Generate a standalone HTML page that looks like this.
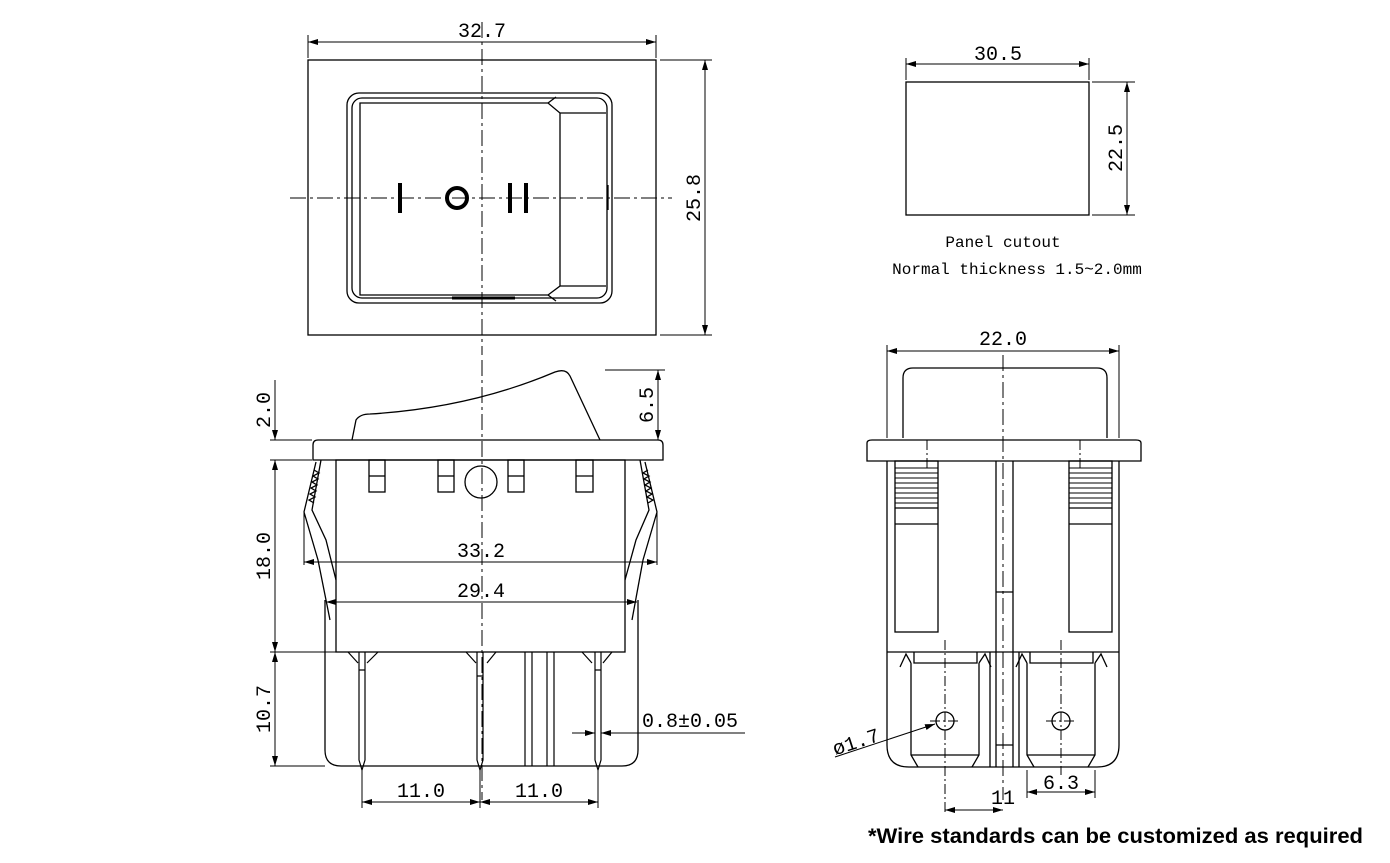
<!DOCTYPE html>
<html><head><style>
html,body{margin:0;padding:0;background:#fff}
svg{display:block}
text{fill:#000}
.m{font-family:"Liberation Mono","DejaVu Sans Mono",monospace}
.f{font-family:"Liberation Sans",sans-serif;font-weight:bold}
</style></head><body>
<svg width="1390" height="863" viewBox="0 0 1390 863" xmlns="http://www.w3.org/2000/svg">
<defs>
<marker id="a" viewBox="0 0 10 6" refX="10" refY="3" markerWidth="10" markerHeight="6" orient="auto-start-reverse"><path d="M0,0L10,3L0,6z" fill="#000"/></marker>
</defs>
<g fill="none" stroke="#000" stroke-width="1.3">
<rect x="308" y="60" width="348" height="275"/>
<rect x="347" y="93" width="265" height="210" rx="12"/>
<rect x="352" y="98" width="255" height="200" rx="10"/>
<path d="M360,103 H548 L560,113 V286 L548,295 H360 Z"/>
<path d="M560,113 H606 M560,286 H606 M548,103 L556,97 M548,295 L556,301"/>
<line x1="608" y1="185" x2="608" y2="210"/>
<line x1="452" y1="298" x2="515" y2="298" stroke-width="3"/>
<g stroke-width="1" stroke-dasharray="16,4,3,4">
<line x1="482" y1="22" x2="482" y2="355"/>
<line x1="290" y1="198" x2="672" y2="198"/>
<line x1="482" y1="360" x2="482" y2="800"/>
<line x1="1003" y1="355" x2="1003" y2="800"/>
</g>
<line x1="400" y1="183" x2="400" y2="213" stroke-width="4"/>
<circle cx="457" cy="198" r="10" stroke-width="4"/>
<line x1="510" y1="183" x2="510" y2="213" stroke-width="4"/>
<line x1="526" y1="183" x2="526" y2="213" stroke-width="4"/>
<g stroke-width="1">
<line x1="308" y1="35" x2="308" y2="58"/><line x1="656" y1="35" x2="656" y2="58"/>
<line x1="308" y1="42" x2="656" y2="42" marker-start="url(#a)" marker-end="url(#a)"/>
<line x1="660" y1="60" x2="712" y2="60"/><line x1="660" y1="335" x2="712" y2="335"/>
<line x1="705" y1="60" x2="705" y2="335" marker-start="url(#a)" marker-end="url(#a)"/>
</g>
<rect x="906" y="82" width="183" height="133"/>
<g stroke-width="1">
<line x1="906" y1="58" x2="906" y2="80"/><line x1="1089" y1="58" x2="1089" y2="80"/>
<line x1="906" y1="64" x2="1089" y2="64" marker-start="url(#a)" marker-end="url(#a)"/>
<line x1="1092" y1="82" x2="1135" y2="82"/><line x1="1092" y1="215" x2="1135" y2="215"/>
<line x1="1127" y1="82" x2="1127" y2="215" marker-start="url(#a)" marker-end="url(#a)"/>
</g>
<path d="M352,440 L356,420 Q360,414 370,414 Q470,408 555,372 Q566,368 570,376 L600,440"/>
<path d="M313,445 Q313,440 318,440 H658 Q663,440 663,445 V460 H313 Z"/>
<rect x="336" y="460" width="289" height="192"/>
<path d="M325,600 V750 Q325,766 341,766 H622 Q638,766 638,750 V600"/>
<path d="M321,460 L312,510 L326,540 L336,580 M640,460 L649,510 L636,540 L625,580"/>
<path d="M316,462 L304,512 L318,560 L330,620 M645,462 L657,512 L643,560 L632,620"/>
<path d="M314,470 l5,3 l-6,3 l5,3 l-6,3 l5,3 l-6,3 l5,3 l-6,3 l5,3 l-6,3 l5,3 M648,470 l-5,3 l6,3 l-5,3 l6,3 l-5,3 l6,3 l-5,3 l6,3 l-5,3 l6,3 l-5,3"/>
<rect x="369" y="460" width="16" height="32"/><line x1="369" y1="476" x2="385" y2="476"/>
<rect x="438" y="460" width="16" height="32"/><line x1="438" y1="476" x2="454" y2="476"/>
<rect x="508" y="460" width="16" height="32"/><line x1="508" y1="476" x2="524" y2="476"/>
<rect x="576" y="460" width="17" height="32"/><line x1="576" y1="476" x2="593" y2="476"/>
<circle cx="481" cy="482" r="16"/>
<g stroke-width="1.2">
<path d="M359,652 V760 L362,770 L365,760 V652 M466,652 L476,663 M487,663 L496,652 M348,652 L358,663 M367,663 L378,652 M582,652 L592,663 M603,663 L612,652"/>
<path d="M477,652 V760 L480,770 L483,760 V652 M595,652 V760 L598,770 L601,760 V652"/>
<path d="M525,652 V766 M532,652 V766 M547,652 V766 M554,652 V766"/>
<path d="M359,670 h6 M477,676 h6 M595,670 h6"/>
</g>
<g stroke-width="1">
<line x1="270" y1="440" x2="312" y2="440"/>
<line x1="270" y1="460" x2="312" y2="460"/>
<line x1="275" y1="380" x2="275" y2="440" marker-end="url(#a)"/>
<line x1="275" y1="460" x2="275" y2="652" marker-start="url(#a)" marker-end="url(#a)"/>
<line x1="270" y1="652" x2="336" y2="652"/>
<line x1="270" y1="766" x2="325" y2="766"/>
<line x1="275" y1="652" x2="275" y2="766" marker-start="url(#a)" marker-end="url(#a)"/>
<line x1="605" y1="370" x2="665" y2="370"/>
<line x1="658" y1="370" x2="658" y2="440" marker-start="url(#a)" marker-end="url(#a)"/>
<line x1="304" y1="512" x2="304" y2="565"/><line x1="657" y1="512" x2="657" y2="565"/>
<line x1="304" y1="562" x2="657" y2="562" marker-start="url(#a)" marker-end="url(#a)"/>
<line x1="326" y1="602" x2="637" y2="602" marker-start="url(#a)" marker-end="url(#a)"/>
<line x1="572" y1="733" x2="595" y2="733" marker-end="url(#a)"/>
<line x1="601" y1="733" x2="745" y2="733" marker-start="url(#a)"/>
<line x1="362" y1="770" x2="362" y2="808"/><line x1="480" y1="770" x2="480" y2="808"/><line x1="598" y1="770" x2="598" y2="808"/>
<line x1="362" y1="802" x2="480" y2="802" marker-start="url(#a)" marker-end="url(#a)"/>
<line x1="480" y1="802" x2="598" y2="802" marker-start="url(#a)" marker-end="url(#a)"/>
</g>
<path d="M903,438 V378 Q903,368 913,368 H1097 Q1107,368 1107,378 V438"/>
<path d="M867,443 Q867,440 872,440 H1136 Q1141,440 1141,443 V461 H867 Z"/>
<path d="M887,461 V745 Q887,767 909,767 H1097 Q1119,767 1119,745 V461"/>
<line x1="887" y1="652" x2="1119" y2="652"/>
<path d="M996,461 V767 M1013,461 V767 M996,592 H1013 M996,745 H1013 M990,652 V767 M1019,652 V767"/>
<rect x="895" y="461" width="43" height="171"/><line x1="895" y1="524" x2="938" y2="524"/><line x1="895" y1="508" x2="938" y2="508"/>
<rect x="1069" y="461" width="43" height="171"/><line x1="1069" y1="524" x2="1112" y2="524"/><line x1="1069" y1="508" x2="1112" y2="508"/>
<path stroke-width="0.9" d="M895,468h43M895,473h43M895,478h43M895,483h43M895,488h43M895,493h43M895,498h43M895,503h43 M1069,468h43M1069,473h43M1069,478h43M1069,483h43M1069,488h43M1069,493h43M1069,498h43M1069,503h43"/>
<path d="M911,663 V755 L918,767 M979,663 V755 L972,767 M911,755 H979 M914,652 V663 H977 V652 M900,667 L906,654 L911,663 M979,663 L985,654 L991,667"/>
<path d="M1027,663 V755 L1034,767 M1095,663 V755 L1088,767 M1027,755 H1095 M1030,652 V663 H1093 V652 M1016,667 L1022,654 L1027,663 M1095,663 L1101,654 L1107,667"/>
<circle cx="945" cy="721" r="9"/><circle cx="1061" cy="721" r="9"/>
<g stroke-width="1" stroke-dasharray="10,3,2,3">
<line x1="945" y1="640" x2="945" y2="815"/><line x1="1061" y1="640" x2="1061" y2="775"/>
<line x1="930" y1="721" x2="960" y2="721"/><line x1="1046" y1="721" x2="1076" y2="721"/>
<line x1="927" y1="440" x2="927" y2="470"/><line x1="1080" y1="440" x2="1080" y2="470"/>
</g>
<g stroke-width="1">
<line x1="887" y1="345" x2="887" y2="438"/><line x1="1119" y1="345" x2="1119" y2="438"/>
<line x1="887" y1="351" x2="1119" y2="351" marker-start="url(#a)" marker-end="url(#a)"/>
<line x1="835" y1="757" x2="935" y2="724" marker-end="url(#a)"/>
<line x1="945" y1="810" x2="1003" y2="810" marker-start="url(#a)" marker-end="url(#a)"/>
<line x1="1027" y1="770" x2="1027" y2="798"/><line x1="1095" y1="770" x2="1095" y2="798"/>
<line x1="1027" y1="792" x2="1095" y2="792" marker-start="url(#a)" marker-end="url(#a)"/>
</g>
</g>
<g class="m" font-size="20">
<text x="482" y="37" text-anchor="middle">32.7</text>
<text transform="translate(700,198) rotate(-90)" text-anchor="middle">25.8</text>
<text x="998" y="60" text-anchor="middle">30.5</text>
<text transform="translate(1122,148) rotate(-90)" text-anchor="middle">22.5</text>
<text x="1003" y="345" text-anchor="middle">22.0</text>
<text transform="translate(270,410) rotate(-90)" text-anchor="middle">2.0</text>
<text transform="translate(653,405) rotate(-90)" text-anchor="middle">6.5</text>
<text transform="translate(270,556) rotate(-90)" text-anchor="middle">18.0</text>
<text transform="translate(270,709) rotate(-90)" text-anchor="middle">10.7</text>
<text x="481" y="557" text-anchor="middle">33.2</text>
<text x="481" y="597" text-anchor="middle">29.4</text>
<text x="690" y="727" text-anchor="middle">0.8±0.05</text>
<text x="421" y="797" text-anchor="middle">11.0</text>
<text x="539" y="797" text-anchor="middle">11.0</text>
<text x="1003" y="804" text-anchor="middle">11</text>
<text x="1061" y="789" text-anchor="middle">6.3</text>
<text transform="translate(858,748) rotate(-18)" text-anchor="middle">ø1.7</text>
</g>
<g class="m" font-size="16">
<text x="1003" y="247" text-anchor="middle">Panel cutout</text>
<text x="1017" y="274" text-anchor="middle">Normal thickness 1.5~2.0mm</text>
</g>
<text class="f" x="868" y="843" font-size="21" textLength="495" lengthAdjust="spacingAndGlyphs">*Wire standards can be customized as required</text>
</svg>
</body></html>
